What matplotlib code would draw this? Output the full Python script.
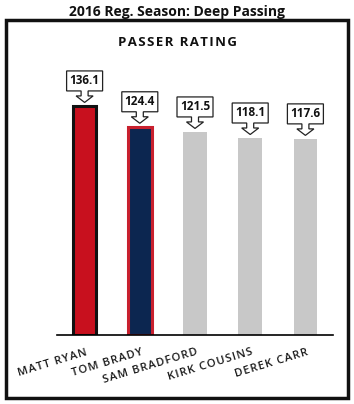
import matplotlib.pyplot as plt
import matplotlib.patches as mpatches
import matplotlib.transforms as mtransforms

plt.rcParams['font.family'] = ['Open Sans', 'DejaVu Sans']

players = ['MATT RYAN', 'TOM BRADY', 'SAM BRADFORD', 'KIRK COUSINS', 'DEREK CARR']
rating = [136.1, 124.4, 121.5, 118.1, 117.6]
fills = ['#c8101e', '#0c2650', '#c8c8c8', '#c8c8c8', '#c8c8c8']
edges = ['#111111', '#c8202e', '#c8c8c8', '#c8c8c8', '#c8c8c8']

ymin, ymax = 7.5, 167.5


def spaced(s, gap='\u200a'):
    # crude letter spacing
    return gap.join(s)


fig = plt.figure(figsize=(3.54, 4.04), dpi=100)
ax = fig.add_axes([57 / 354, 69 / 404, 276 / 354, 285 / 404])

for i, v in enumerate(rating):
    ax.bar(i, v - ymin, bottom=ymin, width=0.43, color=fills[i],
           edgecolor=edges[i], linewidth=2.2 if i < 2 else 0, zorder=2)

ax.set_xlim(-0.5, 4.5)
ax.set_ylim(ymin, ymax)
for s in ['top', 'left', 'right']:
    ax.spines[s].set_visible(False)
ax.spines['bottom'].set_linewidth(1.2)
ax.spines['bottom'].set_zorder(3)
ax.set_yticks([])
ax.set_xticks([])

# callouts: box + down arrow, offsets in inches from bar top
W = 0.36
callout = [(-W / 2, 0.35), (W / 2, 0.35), (W / 2, 0.15), (0.035, 0.15), (0.035, 0.10),
           (0.085, 0.10), (0.0, 0.035), (-0.085, 0.10), (-0.035, 0.10),
           (-0.035, 0.15), (-W / 2, 0.15)]
for i, v in enumerate(rating):
    tr = fig.dpi_scale_trans + mtransforms.ScaledTranslation(i, v, ax.transData)
    poly = mpatches.Polygon(callout, closed=True, transform=tr, facecolor='white',
                            edgecolor='#222222', linewidth=0.9, clip_on=False, zorder=4)
    ax.add_patch(poly)
    ax.text(0, 0.25, f'{v:.1f}', transform=tr, ha='center', va='center',
            fontsize=8.5, fontweight='bold', color='#111111', zorder=5)

# rotated player labels
for i, name in enumerate(players):
    tr = fig.dpi_scale_trans + mtransforms.ScaledTranslation(i, ymin, ax.transData)
    ax.text(0.01, -0.12, spaced(name), transform=tr, rotation=17, rotation_mode='anchor',
            ha='right', va='top', fontsize=8, fontweight='semibold', color='#1a1a1a')

fig.text(0.5, 1 - 12 / 404, '2016 Reg. Season: Deep Passing', ha='center', va='center',
         fontsize=10, fontweight='bold', color='#111111')
fig.text(0.5, 1 - 43 / 404, spaced('PASSER RATING'), ha='center',
         va='center', fontsize=9.5, fontweight='bold', color='#111111')

frame = mpatches.Rectangle((6 / 354, 6 / 404), 342 / 354, 378 / 404, transform=fig.transFigure,
                           fill=False, edgecolor='#111111', linewidth=2.5)
fig.patches.append(frame)

fig.savefig('out.png', dpi=100)
